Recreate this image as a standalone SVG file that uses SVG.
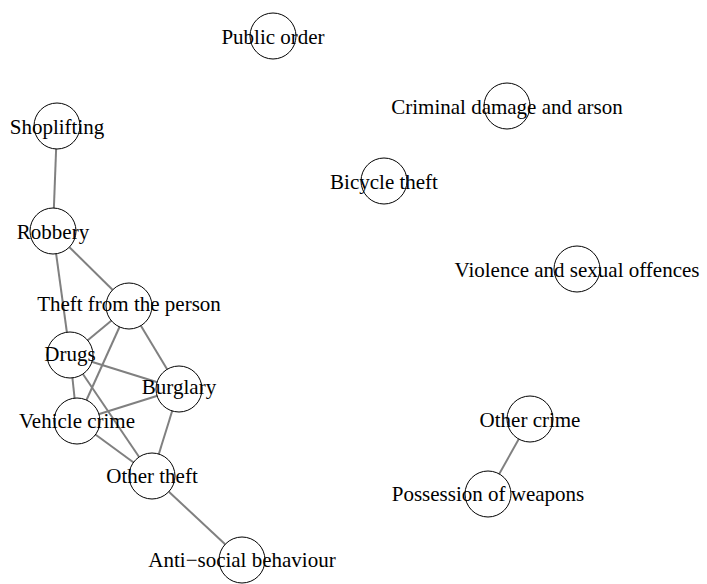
<svg xmlns="http://www.w3.org/2000/svg" width="707" height="584" viewBox="0 0 707 584">
<style>
.e{stroke:#808080;stroke-width:2;fill:none}
.n circle{fill:#fff;stroke:#000;stroke-width:1}
.n text{font-size:21px;fill:#000;text-anchor:middle}
</style>
<rect width="707" height="584" fill="#fff"/>
<g id="edges">
<line class="e" x1="57" y1="126" x2="53" y2="231"/>
<line class="e" x1="53" y1="231" x2="129" y2="306"/>
<line class="e" x1="53" y1="231" x2="70" y2="355"/>
<line class="e" x1="129" y1="306" x2="70" y2="355"/>
<line class="e" x1="129" y1="306" x2="77" y2="421"/>
<line class="e" x1="129" y1="306" x2="179" y2="389"/>
<line class="e" x1="70" y1="355" x2="179" y2="389"/>
<line class="e" x1="70" y1="355" x2="77" y2="421"/>
<line class="e" x1="70" y1="355" x2="152" y2="476"/>
<line class="e" x1="77" y1="421" x2="179" y2="389"/>
<line class="e" x1="77" y1="421" x2="152" y2="476"/>
<line class="e" x1="179" y1="389" x2="152" y2="476"/>
<line class="e" x1="152" y1="476" x2="242" y2="560"/>
<line class="e" x1="530" y1="419" x2="488" y2="494"/>
</g>
<g font-family="Liberation Serif, DejaVu Serif, serif">
<g id="public-order" class="n"><circle cx="273" cy="36" r="23"/><text x="273" y="44">Public order</text></g>
<g id="criminal-damage" class="n"><circle cx="507" cy="106" r="23"/><text x="507" y="114">Criminal damage and arson</text></g>
<g id="shoplifting" class="n"><circle cx="57" cy="126" r="23"/><text x="57" y="134">Shoplifting</text></g>
<g id="bicycle-theft" class="n"><circle cx="384" cy="181" r="23"/><text x="384" y="189">Bicycle theft</text></g>
<g id="robbery" class="n"><circle cx="53" cy="231" r="23"/><text x="53" y="239">Robbery</text></g>
<g id="violence" class="n"><circle cx="577" cy="269" r="23"/><text x="577" y="277">Violence and sexual offences</text></g>
<g id="theft-person" class="n"><circle cx="129" cy="306" r="23"/><text x="129" y="311">Theft from the person</text></g>
<g id="drugs" class="n"><circle cx="70" cy="355" r="23"/><text x="70" y="361">Drugs</text></g>
<g id="burglary" class="n"><circle cx="179" cy="389" r="23"/><text x="179" y="394">Burglary</text></g>
<g id="vehicle-crime" class="n"><circle cx="77" cy="421" r="23"/><text x="77" y="428">Vehicle crime</text></g>
<g id="other-crime" class="n"><circle cx="530" cy="419" r="23"/><text x="530" y="427">Other crime</text></g>
<g id="other-theft" class="n"><circle cx="152" cy="476" r="23"/><text x="152" y="483">Other theft</text></g>
<g id="possession" class="n"><circle cx="488" cy="494" r="23"/><text x="488" y="501">Possession of weapons</text></g>
<g id="anti-social" class="n"><circle cx="242" cy="560" r="23"/><text x="242" y="567">Anti−social behaviour</text></g>
</g>
</svg>
